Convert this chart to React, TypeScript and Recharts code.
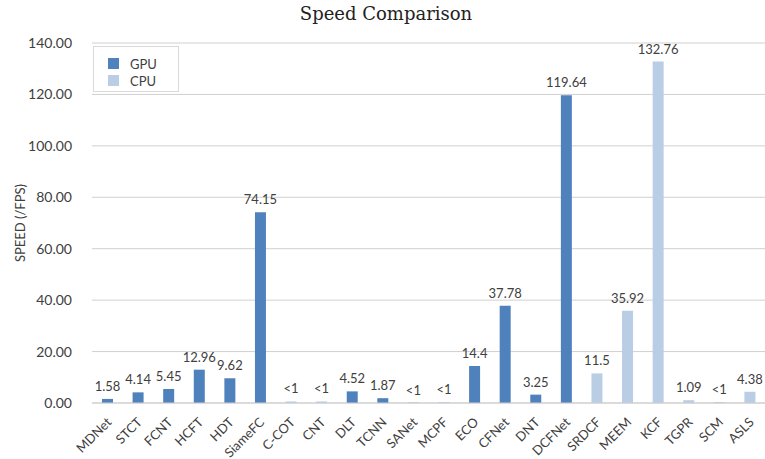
import React from 'react';
import { BarChart, Bar, Cell, CartesianGrid, XAxis, YAxis, LabelList } from 'recharts';

const trackers = [
  'MDNet', 'STCT', 'FCNT', 'HCFT', 'HDT', 'SiameFC', 'C-COT', 'CNT', 'DLT', 'TCNN', 'SANet',
  'MCPF', 'ECO', 'CFNet', 'DNT', 'DCFNet', 'SRDCF', 'MEEM', 'KCF', 'TGPR', 'SCM', 'ASLS',
];
const speeds = [
  1.58, 4.14, 5.45, 12.96, 9.62, 74.15, 0.6, 0.6, 4.52, 1.87, 0.1,
  0.4, 14.4, 37.78, 3.25, 119.64, 11.5, 35.92, 132.76, 1.09, 0.4, 4.38,
];
const speedLabels = [
  '1.58', '4.14', '5.45', '12.96', '9.62', '74.15', '<1', '<1', '4.52', '1.87', '<1',
  '<1', '14.4', '37.78', '3.25', '119.64', '11.5', '35.92', '132.76', '1.09', '<1', '4.38',
];
const device = [
  'GPU', 'GPU', 'GPU', 'GPU', 'GPU', 'GPU', 'CPU', 'CPU', 'GPU', 'GPU', 'GPU',
  'CPU', 'GPU', 'GPU', 'GPU', 'GPU', 'CPU', 'CPU', 'CPU', 'CPU', 'CPU', 'CPU',
];
const yTicks = [0, 20, 40, 60, 80, 100, 120, 140];

const colors: Record<string, string> = { GPU: '#4f81bd', CPU: '#b9cde5' };
const font = 'Lato, "Open Sans", sans-serif';

const data = trackers.map((name, i) => ({
  name,
  speed: speeds[i],
  label: speedLabels[i],
  device: device[i],
}));

const XTick = (props: any) => {
  const { x, y, payload } = props;
  return (
    <text
      x={x + 5}
      y={y + 12}
      transform={`rotate(-45, ${x + 5}, ${y + 12})`}
      textAnchor="end"
      fontSize={13}
      fontFamily={font}
      fill="#404040"
    >
      {payload.value}
    </text>
  );
};

const LegendBox = () => (
  <div
    style={{
      position: 'absolute',
      left: 93,
      top: 46,
      width: 86,
      height: 46,
      background: '#fff',
      border: '1px solid #d9d9d9',
      fontFamily: font,
      fontSize: 13,
      color: '#404040',
      boxSizing: 'border-box',
      paddingTop: 8,
      paddingLeft: 14,
    }}
  >
    {['GPU', 'CPU'].map((k) => (
      <div key={k} style={{ display: 'flex', alignItems: 'center', height: 17 }}>
        <span style={{ width: 11, height: 11, background: colors[k], marginRight: 11 }} />
        {k}
      </div>
    ))}
  </div>
);

export default function App() {
  return (
    <div style={{ position: 'absolute', left: 0, top: 0, width: 765, height: 459, background: '#fff' }}>
      <div
        style={{
          position: 'absolute',
          top: 3,
          left: 0,
          width: 772,
          textAlign: 'center',
          fontFamily: '"DejaVu Serif", serif',
          fontSize: 18,
          color: '#222',
        }}
      >
        Speed Comparison
      </div>
      <BarChart width={765} height={459} data={data} margin={{ top: 43, right: 0, left: 0, bottom: 0 }}>
        <CartesianGrid vertical={false} stroke="#d0d0d0" />
        <XAxis
          dataKey="name"
          height={56}
          interval={0}
          tick={<XTick />}
          tickLine={false}
          axisLine={{ stroke: '#cfcfcf' }}
        />
        <YAxis
          width={92}
          domain={[0, 140]}
          ticks={yTicks}
          tickFormatter={(v: number) => v.toFixed(2)}
          axisLine={false}
          tickLine={false}
          tick={{ fontSize: 14, fontFamily: font, fill: '#404040' }}
          tickMargin={14}
          label={{
            content: ({ viewBox }: any) => (
              <text
                x={22}
                y={viewBox.y + viewBox.height / 2}
                transform={`rotate(-90, 22, ${viewBox.y + viewBox.height / 2})`}
                textAnchor="middle"
                dominantBaseline="middle"
                fontSize={13}
                fontFamily={font}
                fill="#404040"
              >
                SPEED (/FPS)
              </text>
            ),
          }}
        />
        <Bar dataKey="speed" barSize={11} isAnimationActive={false} legendType="none">
          {data.map((d) => (
            <Cell key={d.name} fill={colors[d.device]} />
          ))}
          <LabelList
            dataKey="label"
            position="top"
            offset={8}
            fontSize={13}
            fontFamily={font}
            fill="#404040"
          />
        </Bar>
      </BarChart>
      <LegendBox />
    </div>
  );
}
